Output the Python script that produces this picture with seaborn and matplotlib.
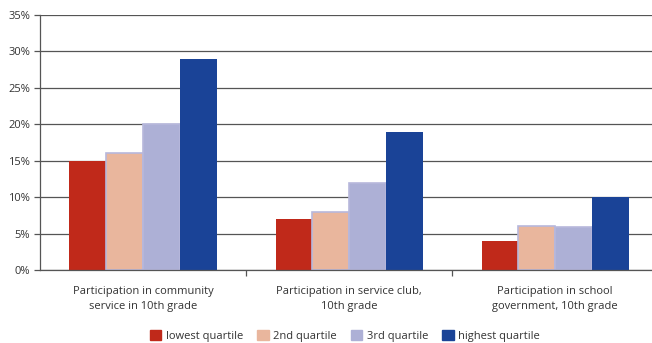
import pandas as pd
import matplotlib.pyplot as plt
import seaborn as sns
from matplotlib.ticker import FuncFormatter, FixedLocator

# Data
categories = [
    'Participation in community\nservice in 10th grade',
    'Participation in service club,\n10th grade',
    'Participation in school\ngovernment, 10th grade',
]
quartiles = ['lowest quartile', '2nd quartile', '3rd quartile', 'highest quartile']
lowest = [15, 7, 4]
second = [16, 8, 6]
third = [20, 12, 5.9]
highest = [29, 19, 10]

colors = ['#C0291A', '#E9B69D', '#ADB0D6', '#1A4397']

rows = []
for q, vals in zip(quartiles, [lowest, second, third, highest]):
    for c, v in zip(categories, vals):
        rows.append({'category': c, 'quartile': q, 'value': v})
df = pd.DataFrame(rows)

sns.set_style('white')
plt.rcParams['font.family'] = ['Open Sans', 'DejaVu Sans']

fig = plt.figure(figsize=(6.52, 3.43), dpi=100)
ax = fig.add_axes([40 / 652, 1 - 270 / 343, 1 - 40 / 652, (270 - 15) / 343])

sns.barplot(data=df, x='category', y='value', hue='quartile', order=categories,
            hue_order=quartiles, palette=colors, width=0.714, saturation=1,
            linewidth=0, ax=ax, legend=False)

# light lavender outline on the pale bars
for bar, (q, c) in zip(ax.patches, [(q, c) for q in quartiles for c in categories]):
    if q in ('2nd quartile', '3rd quartile'):
        bar.set_edgecolor('#B7B8DC')
        bar.set_linewidth(1.2)

ax.set_ylim(0, 35)
ax.set_xlim(-0.5, 2.47)
ax.set_yticks(range(0, 36, 5))
ax.yaxis.set_major_formatter(FuncFormatter(lambda v, p: f'{int(v)}%'))
ax.grid(axis='y', color='#555555', linewidth=0.9)
ax.set_axisbelow(True)

for s in ['top', 'right']:
    ax.spines[s].set_visible(False)
for s in ['left', 'bottom']:
    ax.spines[s].set_color('#555555')
    ax.spines[s].set_linewidth(0.9)

ax.tick_params(axis='y', left=True, length=4, width=0.9, color='#555555',
               labelsize=8, labelcolor='#333333', pad=3)
ax.tick_params(axis='x', which='major', bottom=False, labelsize=8,
               labelcolor='#333333', pad=8)
ax.xaxis.set_minor_locator(FixedLocator([0.5, 1.5]))
ax.tick_params(axis='x', which='minor', bottom=True, length=4, width=0.9,
               color='#555555')
for lbl in ax.get_xticklabels():
    lbl.set_linespacing(1.45)
ax.set_xlabel('')
ax.set_ylabel('')

handles = [plt.Rectangle((0, 0), 1, 1, color=c) for c in colors]
fig.legend(handles, quartiles, loc='center', bbox_to_anchor=(345 / 652, 1 - 336 / 343),
           ncol=4, frameon=False, fontsize=8, handlelength=1.0, handleheight=1.0,
           handletextpad=0.4, columnspacing=1.3, borderaxespad=0,
           labelcolor='#333333')

fig.savefig('out.png', dpi=100)
